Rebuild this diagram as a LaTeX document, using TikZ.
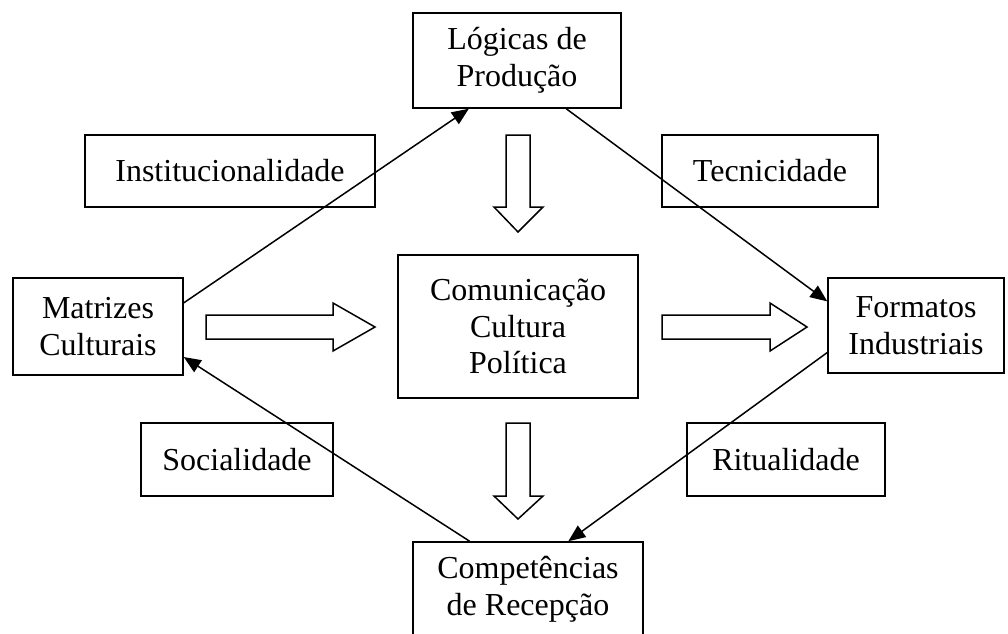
\documentclass[tikz,border=0pt]{standalone}
\usepackage{fontspec}
\setmainfont{Liberation Serif}
\usetikzlibrary{arrows.meta,calc}
\begin{document}
\begin{tikzpicture}[x=1pt,y=-1pt,
  box/.style={draw,line width=1.5pt,rectangle,inner sep=0pt,align=center,
    font=\fontsize{32}{36.5}\selectfont},
  conn/.style={line width=1.5pt,-{Triangle[length=17pt,width=14pt]}},
  blockarrow/.style={draw,line width=1.5pt,fill=white,line join=miter}]
\useasboundingbox (0,0) rectangle (1008,633);
\clip (0,0) rectangle (1008,633);
% nodes
\node[box,minimum width=208pt,minimum height=95pt] (log) at (517,60.5) {Lógicas de\\Produção};
\node[box,minimum width=290pt,minimum height=72pt] (inst) at (230,171) {Institucionalidade};
\node[box,minimum width=216pt,minimum height=72pt] (tec) at (770,171) {Tecnicidade};
\node[box,minimum width=170pt,minimum height=97pt] (mat) at (98,326.5) {Matrizes\\Culturais};
\node[box,minimum width=240pt,minimum height=143pt] (com) at (518,326.5) {Comunicação\\Cultura\\Política};
\node[box,minimum width=176pt,minimum height=95pt] (for) at (916,325.5) {Formatos\\Industriais};
\node[box,minimum width=192pt,minimum height=73pt] (soc) at (237,459.5) {Socialidade};
\node[box,minimum width=198pt,minimum height=73pt] (rit) at (786,459.5) {Ritualidade};
\node[box,minimum width=230pt,minimum height=95pt] (comp) at (528,589.5) {Competências\\de Recepção};
% connectors
\draw[conn] ($(mat.north east)!0.26!(mat.south east)$) -- ($(log.south west)!0.27!(log.south east)$);
\draw[conn] ($(log.south west)!0.735!(log.south east)$) -- ($(for.north west)!0.25!(for.south west)$);
\draw[conn] ($(for.north west)!0.78!(for.south west)$) -- ($(comp.north west)!0.674!(comp.north east)$);
\draw[conn] ($(comp.north west)!0.248!(comp.north east)$) -- ($(mat.north east)!0.81!(mat.south east)$);
% block arrows
\draw[blockarrow] (206,315) -- (333,315) -- (333,303) -- (375,327) -- (333,351) -- (333,339) -- (206,339) -- cycle;
\draw[blockarrow] (662,315) -- (770,315) -- (770,303) -- (807,327) -- (770,351) -- (770,339) -- (662,339) -- cycle;
\draw[blockarrow] (506,135) -- (530,135) -- (530,207) -- (543,207) -- (518,232) -- (494,207) -- (506,207) -- cycle;
\draw[blockarrow] (506,423) -- (530,423) -- (530,496) -- (543,496) -- (518,519) -- (494,496) -- (506,496) -- cycle;
\end{tikzpicture}
\end{document}
